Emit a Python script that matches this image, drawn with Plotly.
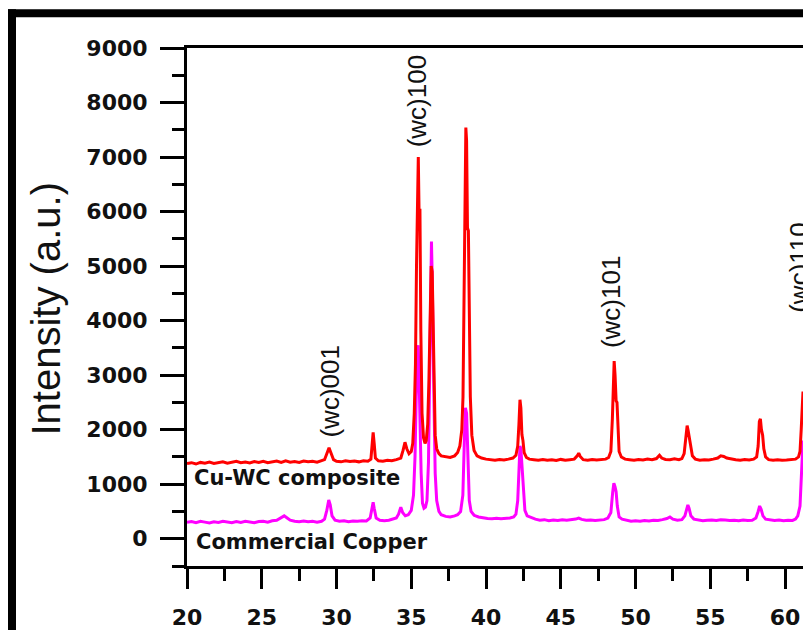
import plotly.graph_objects as go

# ---- data ----
cuwc_x = [20.0, 20.3, 20.6, 20.9, 21.2, 21.5, 21.8, 22.1, 22.4, 22.7, 23.0, 23.3, 23.6, 23.9, 24.2, 24.5, 24.8,
          25.1, 25.4, 25.7, 26.0, 26.3, 26.6, 26.9, 27.2, 27.5, 27.8, 28.1, 28.4, 28.7, 29.0, 29.2, 29.35, 29.5,
          29.65, 29.8, 30.0, 30.3, 30.6, 30.9, 31.2, 31.5, 31.8, 32.1, 32.3, 32.38, 32.45, 32.52, 32.6, 32.8, 33.1,
          33.4, 33.7, 34.0, 34.3, 34.45, 34.58, 34.7, 34.85, 35.0, 35.1, 35.2, 35.28, 35.35, 35.42, 35.47, 35.52,
          35.58, 35.64, 35.72, 35.82, 35.92, 36.0, 36.1, 36.18, 36.26, 36.33, 36.4, 36.46, 36.52, 36.6, 36.7,
          36.85, 37.0, 37.3, 37.6, 37.9, 38.1, 38.25, 38.38, 38.46, 38.53, 38.6, 38.65, 38.7, 38.76, 38.82, 38.88,
          38.95, 39.05, 39.2, 39.4, 39.7, 40.0, 40.3, 40.6, 40.9, 41.2, 41.5, 41.8, 42.0, 42.12, 42.2, 42.27,
          42.33, 42.4, 42.47, 42.55, 42.7, 42.9, 43.2, 43.5, 43.8, 44.1, 44.4, 44.7, 45.0, 45.3, 45.6, 45.9, 46.1,
          46.2, 46.3, 46.5, 46.8, 47.1, 47.4, 47.7, 48.0, 48.2, 48.35, 48.45, 48.52, 48.57, 48.63, 48.7, 48.76,
          48.83, 48.9, 49.05, 49.3, 49.6, 49.9, 50.2, 50.5, 50.8, 51.1, 51.4, 51.6, 51.75, 52.0, 52.3, 52.6, 52.9,
          53.1, 53.25, 53.35, 53.45, 53.52, 53.6, 53.68, 53.8, 54.0, 54.3, 54.6, 54.9, 55.2, 55.5, 55.7, 55.9,
          56.1, 56.4, 56.7, 57.0, 57.3, 57.6, 57.9, 58.1, 58.2, 58.28, 58.35, 58.42, 58.5, 58.58, 58.7, 58.9,
          59.2, 59.5, 59.8, 60.1, 60.4, 60.7, 60.9, 61.0, 61.08, 61.15, 61.2]
cuwc_y = [1380, 1395, 1370, 1400, 1385, 1405, 1380, 1395, 1410, 1385, 1400, 1420, 1395, 1405, 1390, 1415, 1400,
          1420, 1395, 1410, 1425, 1400, 1430, 1405, 1415, 1400, 1425, 1410, 1420, 1405, 1430, 1450, 1560, 1670,
          1560, 1450, 1420, 1410, 1430, 1415, 1425, 1410, 1430, 1420, 1460, 1700, 1950, 1750, 1480, 1430, 1420,
          1440, 1430, 1450, 1480, 1620, 1770, 1650, 1560, 1600, 1750, 2300, 3200, 5000, 6950, 7000, 6000,
          6050, 3800, 2300, 1850, 1750, 1800, 2100, 2900, 4300, 5000, 4900, 3800, 2600, 1900, 1650,
          1560, 1520, 1500, 1490, 1520, 1580, 1700, 2000, 2600, 4600, 7200, 7540, 7300, 5700, 5650, 4000,
          2600, 1900, 1620, 1520, 1480, 1460, 1450, 1440, 1455, 1445, 1460, 1480, 1530, 1700, 2100, 2550,
          2400, 1910, 1800, 1580, 1490, 1460, 1450, 1440, 1455, 1440, 1450, 1435, 1455, 1440, 1450, 1460, 1520,
          1570, 1510, 1450, 1440, 1455, 1445, 1450, 1460, 1490, 1600, 2200, 3000, 3260, 3000, 2530, 2500,
          1900, 1600, 1500, 1460, 1450, 1440, 1455, 1445, 1460, 1450, 1470, 1530, 1480, 1455, 1450, 1465, 1450,
          1470, 1560, 1850, 2075, 1980, 1860, 1700, 1520, 1460, 1440, 1450, 1445, 1460, 1480, 1520, 1510,
          1480, 1460, 1450, 1440, 1455, 1445, 1460, 1500, 1700, 2150, 2200, 2000, 1900, 1650, 1500, 1450,
          1440, 1450, 1440, 1445, 1450, 1460, 1500, 1600, 2000, 2500, 2700]

cu_x = [20.0, 20.3, 20.6, 20.9, 21.2, 21.5, 21.8, 22.1, 22.4, 22.7, 23.0, 23.3, 23.6, 23.9, 24.2, 24.5, 24.8,
        25.1, 25.4, 25.7, 26.0, 26.3, 26.5, 26.7, 26.9, 27.2, 27.5, 27.8, 28.1, 28.4, 28.7, 29.0, 29.2, 29.35,
        29.48, 29.58, 29.7, 29.9, 30.2, 30.5, 30.8, 31.1, 31.4, 31.7, 32.0, 32.25, 32.38, 32.45, 32.52, 32.65,
        32.9, 33.2, 33.5, 33.8, 34.0, 34.15, 34.3, 34.42, 34.6, 34.8, 35.0, 35.15, 35.25, 35.33, 35.4, 35.46,
        35.52, 35.58, 35.66, 35.75, 35.85, 35.95, 36.05, 36.15, 36.23, 36.3, 36.35, 36.4, 36.45, 36.52, 36.6,
        36.7, 36.85, 37.0, 37.3, 37.6, 37.9, 38.1, 38.3, 38.45, 38.55, 38.62, 38.7, 38.78, 38.88, 39.0, 39.2,
        39.5, 39.8, 40.1, 40.4, 40.7, 41.0, 41.3, 41.6, 41.85, 42.0, 42.12, 42.2, 42.27, 42.33, 42.4, 42.5,
        42.6, 42.75, 43.0, 43.3, 43.6, 43.9, 44.2, 44.5, 44.8, 45.1, 45.4, 45.7, 46.0, 46.2, 46.4, 46.7, 47.0,
        47.3, 47.6, 47.9, 48.15, 48.35, 48.47, 48.55, 48.63, 48.7, 48.78, 48.9, 49.1, 49.4, 49.7, 50.0, 50.3,
        50.6, 50.9, 51.2, 51.5, 51.8, 52.1, 52.3, 52.5, 52.8, 53.1, 53.3, 53.42, 53.5, 53.58, 53.7, 53.9, 54.2,
        54.5, 54.8, 55.1, 55.4, 55.7, 56.0, 56.3, 56.6, 56.9, 57.2, 57.5, 57.8, 58.05, 58.2, 58.3, 58.4, 58.52,
        58.7, 59.0, 59.3, 59.6, 59.9, 60.2, 60.5, 60.7, 60.85, 61.0, 61.1, 61.2]
cu_y = [300, 315, 295, 320, 305, 290, 310, 300, 320, 305, 295, 315, 300, 320, 305, 295, 315,
        320, 305, 330, 340, 380, 420, 380, 340, 320, 310, 325, 310, 320, 305, 320, 360, 520,
        710, 620, 420, 340, 320, 330, 310, 325, 320, 330, 325, 380, 560, 670, 560, 380,
        340, 330, 340, 360, 380, 450, 580, 480, 420, 440, 520, 800, 1500, 2600, 3300, 3550,
        3000, 2200, 1200, 650, 560, 580, 700, 1400, 3000, 4800, 5450, 4800, 4100, 2500, 1200,
        700, 500, 440, 410, 400, 420, 440, 500, 800, 1800, 2400, 2300, 1500, 700, 500, 430,
        400, 380, 370, 365, 375, 365, 370, 380, 400, 450, 700, 1300, 1700, 1650, 1300, 800,
        520, 420, 390, 360, 340, 350, 330, 345, 335, 350, 340, 345, 360, 380, 355, 340, 345,
        335, 345, 350, 380, 480, 850, 1020, 950, 860, 600, 400, 360, 335, 320, 330, 320,
        335, 325, 340, 335, 350, 370, 400, 360, 340, 350, 420, 560, 620, 560, 420, 360, 340,
        330, 340, 345, 335, 350, 345, 335, 340, 330, 345, 335, 340, 380, 500, 600, 540, 420,
        360, 345, 335, 345, 330, 340, 335, 360, 420, 600, 1200, 1800]

series_names = ["Cu-WC composite", "Commercial Copper"]
series_label_pos = [(20.33, 1110), (20.5, -55)]

peak_labels = ["(wc)001", "(wc)100", "(wc)101", "(wc)110"]
peak_label_x = [29.5, 35.38, 48.36, 60.94]
peak_label_y = [1820, 7140, 3460, 4100]

y_ticks = [0, 1000, 2000, 3000, 4000, 5000, 6000, 7000, 8000, 9000]
x_ticks = [20, 25, 30, 35, 40, 45, 50, 55, 60]

# ---- figure ----
fig = go.Figure()
fig.add_trace(go.Scatter(x=cu_x, y=cu_y, mode="lines", line=dict(color="#ff00ff", width=3),
                         name=series_names[1], showlegend=False))
fig.add_trace(go.Scatter(x=cuwc_x, y=cuwc_y, mode="lines", line=dict(color="#ff0000", width=3),
                         name=series_names[0], showlegend=False))

tick_font = dict(family="DejaVu Sans", size=22, color="#111111", weight="bold")

fig.update_xaxes(range=[20, 61.2], tickvals=x_ticks, ticks="outside", ticklen=20, tickwidth=3,
                 tickcolor="black", showline=True, linewidth=3, linecolor="black", mirror=True,
                 showgrid=False, zeroline=False, tickfont=tick_font, ticklabelstandoff=10,
                 minor=dict(dtick=2.5, tick0=20, ticks="outside", ticklen=12, tickwidth=3, tickcolor="black",
                            showgrid=False))
fig.update_yaxes(range=[-500, 9000], tickvals=y_ticks, ticks="outside", ticklen=24, tickwidth=3,
                 tickcolor="black", showline=True, linewidth=3, linecolor="black", mirror=False,
                 showgrid=False, zeroline=False, tickfont=tick_font, ticklabelstandoff=8,
                 minor=dict(dtick=500, tick0=0, ticks="outside", ticklen=12, tickwidth=3, tickcolor="black",
                            showgrid=False))

annotations = []
for txt, px, py in zip(peak_labels, peak_label_x, peak_label_y):
    annotations.append(dict(x=px, y=py, xref="x", yref="y", text=txt, textangle=-90, showarrow=False,
                            xanchor="center", yanchor="bottom",
                            font=dict(family="Liberation Sans", size=26, color="#111111")))
for name, (lx, ly) in zip(series_names, series_label_pos):
    annotations.append(dict(x=lx, y=ly, xref="x", yref="y", text=name, showarrow=False,
                            xanchor="left", yanchor="middle",
                            font=dict(family="DejaVu Sans", size=21, color="#111111", weight="bold")))
annotations.append(dict(x=-0.229, y=0.497, xref="paper", yref="paper", text="Intensity (a.u.)",
                        textangle=-90, showarrow=False, xanchor="center", yanchor="middle",
                        font=dict(family="Liberation Sans", size=40, color="#111111")))

W, H = 803, 630
L, R, T, B = 187, 0, 48, 61
pw, ph = W - L - R, H - T - B
def px2paper(px, py):
    return (px - L) / pw, (H - B - py) / ph

x0, y0 = px2paper(8, 9)
x1, _ = px2paper(16, 9)
_, y1 = px2paper(8, 17)
xr, yb = px2paper(820, 650)
shapes = [
    dict(type="rect", xref="paper", yref="paper", x0=x0, x1=x1, y0=yb, y1=y0,
         fillcolor="black", line=dict(width=0), layer="above"),
    dict(type="rect", xref="paper", yref="paper", x0=x0, x1=xr, y0=y1, y1=y0,
         fillcolor="black", line=dict(width=0), layer="above"),
]

fig.update_layout(width=W, height=H, margin=dict(l=L, r=R, t=T, b=B, pad=0),
                  plot_bgcolor="white", paper_bgcolor="white", showlegend=False,
                  annotations=annotations, shapes=shapes)

fig.write_html("out.html")
